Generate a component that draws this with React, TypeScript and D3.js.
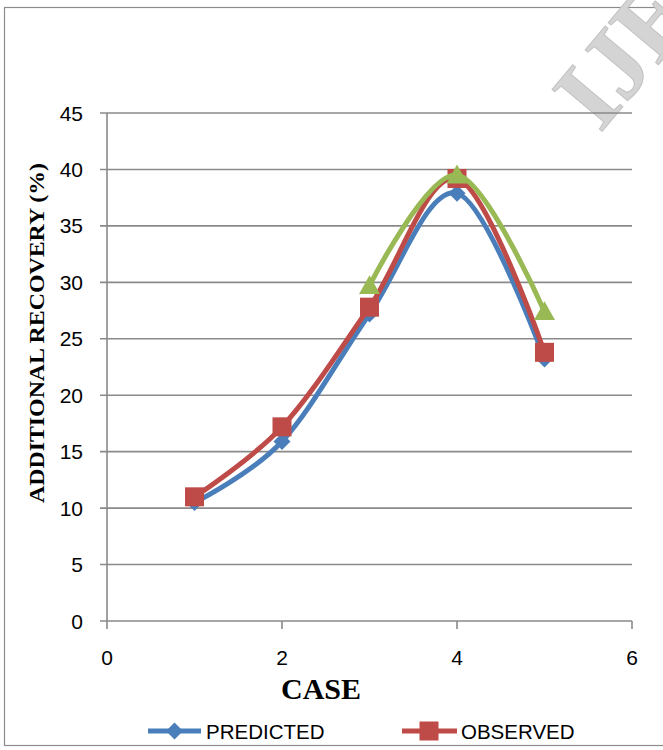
import React from "react";
import * as d3 from "d3";

const cases = [1, 2, 3, 4, 5];
const predicted = [10.5, 15.9, 27.2, 37.9, 23.2];
const observed = [11.0, 17.2, 27.8, 39.2, 23.8];
const thirdCases = [3, 4, 5];
const thirdSeries = [29.7, 39.5, 27.4];
const xTicks = [0, 2, 4, 6];
const yTicks = [0, 5, 10, 15, 20, 25, 30, 35, 40, 45];

const W = 663;
const H = 750;
const m = { left: 107, right: 632, top: 113, bottom: 621 };

const BLUE = "#4A7EBB";
const RED = "#BE4B48";
const GREEN = "#98B954";
const sans = "'Liberation Sans', Arial, sans-serif";
const serif = "'Liberation Serif', 'Times New Roman', serif";

const App: React.FC = () => {
	const x = d3.scaleLinear().domain([0, 6]).range([m.left, m.right]);
	const y = d3.scaleLinear().domain([0, 45]).range([m.bottom, m.top]);

	const line = d3
		.line<[number, number]>()
		.x((d) => x(d[0]))
		.y((d) => y(d[1]))
		.curve(d3.curveCardinal.tension(0));

	const predPts = cases.map((c, i) => [c, predicted[i]] as [number, number]);
	const obsPts = cases.map((c, i) => [c, observed[i]] as [number, number]);
	const thirdPts = thirdCases.map(
		(c, i) => [c, thirdSeries[i]] as [number, number]
	);

	const diamond = (cx: number, cy: number, r: number) =>
		`M${cx},${cy - r}L${cx + r},${cy}L${cx},${cy + r}L${cx - r},${cy}Z`;
	const triangle = (cx: number, cy: number, r: number) =>
		`M${cx},${cy - r}L${cx + r},${cy + r * 0.8}L${cx - r},${cy + r * 0.8}Z`;

	return (
		<svg
			width={W}
			height={H}
			style={{ position: "absolute", left: 0, top: 0 }}
		>
			<rect x={0} y={0} width={W} height={H} fill="#fff" />
			<rect
				x={4.5}
				y={7.5}
				width={W}
				height={738}
				fill="none"
				stroke="#8c8c8c"
				strokeWidth={1.2}
			/>

			{/* watermark, cut by the page edge as in the source */}
			<text
				transform="translate(600,134) rotate(-50)"
				fontFamily={serif}
				fontWeight="bold"
				fontSize={100}
				fill="#d4d4d4"
				stroke="#c2c2c2"
				strokeWidth={1}
			>
				IJERT
			</text>

			{/* gridlines */}
			{yTicks.map((t) => (
				<line
					key={"g" + t}
					x1={m.left - 7}
					x2={m.right}
					y1={y(t)}
					y2={y(t)}
					stroke="#8a8a8a"
					strokeWidth={1.6}
				/>
			))}
			<line
				x1={m.left}
				x2={m.left}
				y1={m.top}
				y2={m.bottom}
				stroke="#8a8a8a"
				strokeWidth={1.6}
			/>
			{xTicks.map((t) => (
				<line
					key={"xt" + t}
					x1={x(t)}
					x2={x(t)}
					y1={m.bottom}
					y2={m.bottom + 8}
					stroke="#8a8a8a"
					strokeWidth={1.6}
				/>
			))}

			{/* tick labels */}
			{yTicks.map((t) => (
				<text
					key={"yl" + t}
					x={m.left - 24}
					y={y(t) + 7.5}
					textAnchor="end"
					fontFamily={sans}
					fontSize={21}
					fill="#000"
				>
					{t}
				</text>
			))}
			{xTicks.map((t) => (
				<text
					key={"xl" + t}
					x={x(t)}
					y={665}
					textAnchor="middle"
					fontFamily={sans}
					fontSize={21}
					fill="#000"
				>
					{t}
				</text>
			))}

			{/* axis titles */}
			<text
				x={321}
				y={699}
				textAnchor="middle"
				fontFamily={serif}
				fontWeight="bold"
				fontSize={30}
			>
				CASE
			</text>
			<text
				transform="translate(44,333) rotate(-90)"
				textAnchor="middle"
				fontFamily={serif}
				fontWeight="bold"
				fontSize={22}
				textLength={340}
				lengthAdjust="spacingAndGlyphs"
			>
				ADDITIONAL RECOVERY (%)
			</text>

			{/* series */}
			<path
				d={line(predPts) || ""}
				fill="none"
				stroke={BLUE}
				strokeWidth={5}
			/>
			{predPts.map((p, i) => (
				<path key={"pd" + i} d={diamond(x(p[0]), y(p[1]), 8.5)} fill={BLUE} />
			))}
			<path
				d={line(obsPts) || ""}
				fill="none"
				stroke={RED}
				strokeWidth={5}
			/>
			{obsPts.map((p, i) => (
				<rect
					key={"os" + i}
					x={x(p[0]) - 9.5}
					y={y(p[1]) - 9.5}
					width={19}
					height={19}
					fill={RED}
				/>
			))}
			<path
				d={line(thirdPts) || ""}
				fill="none"
				stroke={GREEN}
				strokeWidth={5}
			/>
			{thirdPts.map((p, i) => (
				<path
					key={"tt" + i}
					d={triangle(x(p[0]), y(p[1]), 10.5)}
					fill={GREEN}
				/>
			))}

			{/* legend */}
			<line x1={148} x2={201} y1={731} y2={731} stroke={BLUE} strokeWidth={5} />
			<path d={diamond(174.5, 731, 8.5)} fill={BLUE} />
			<text x={206} y={738.5} fontFamily={sans} fontSize={20.5}>
				PREDICTED
			</text>
			<line x1={402} x2={457} y1={731} y2={731} stroke={RED} strokeWidth={5} />
			<rect x={419.5} y={721.5} width={19} height={19} fill={RED} />
			<text x={461} y={738.5} fontFamily={sans} fontSize={20.5}>
				OBSERVED
			</text>
		</svg>
	);
};

export default App;
